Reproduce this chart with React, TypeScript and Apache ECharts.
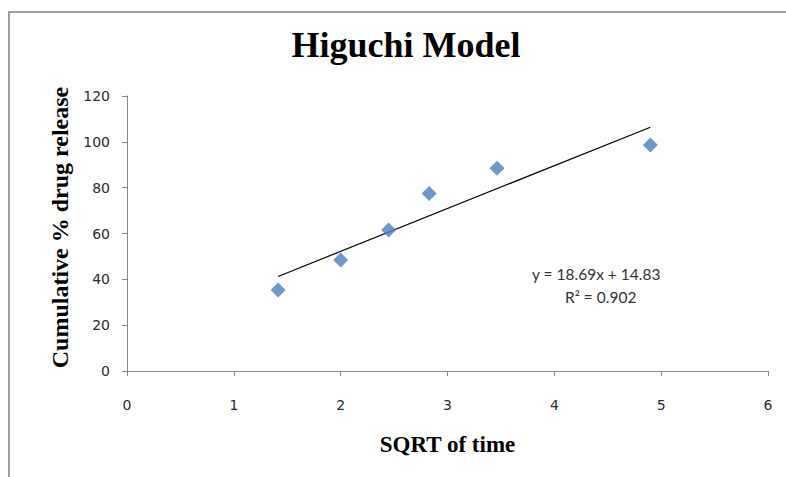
import React, { useEffect, useRef } from "react";
import * as echarts from "echarts";

const xValues = [1.414, 2.0, 2.449, 2.828, 3.464, 4.899];
const yValues = [35.3, 48.4, 61.5, 77.5, 88.5, 98.6];
const slope = 18.69;
const intercept = 14.83;
const equationText = "y = 18.69x + 14.83";
const r2Text = "R² = 0.902";
const titleText = "Higuchi Model";
const xAxisName = "SQRT of time";
const yAxisName = "Cumulative % drug release";

export default function App() {
  const ref = useRef<HTMLDivElement>(null);
  useEffect(() => {
    if (!ref.current) return;
    const chart = echarts.init(ref.current, null, { renderer: "svg" });
    const xMin = Math.min(...xValues);
    const xMax = Math.max(...xValues);
    const trend = [
      [xMin, slope * xMin + intercept],
      [xMax, slope * xMax + intercept],
    ];
    const serif = "'Liberation Serif', 'Times New Roman', serif";
    const sans = "'DejaVu Sans', sans-serif";
    const eqFont = "Lato, 'Noto Sans', sans-serif";
    chart.setOption({
      animation: false,
      backgroundColor: "#ffffff",
      title: {
        text: titleText,
        left: 401,
        textAlign: "center",
        top: 22,
        textStyle: { fontFamily: serif, fontSize: 36, fontWeight: "bold", color: "#000" },
      },
      grid: { left: 127, top: 96, right: 18, bottom: 106 },
      xAxis: {
        type: "value",
        min: 0,
        max: 6,
        interval: 1,
        name: xAxisName,
        nameLocation: "middle",
        nameGap: 62,
        nameTextStyle: { fontFamily: serif, fontSize: 23, fontWeight: "bold", color: "#000" },
        axisLine: { show: true, onZero: false, lineStyle: { color: "#868686", width: 1 } },
        axisTick: { show: true, length: 5, lineStyle: { color: "#868686" } },
        splitLine: { show: false },
        axisLabel: { fontFamily: sans, fontSize: 14, color: "#2a2a2a", margin: 27 },
      },
      yAxis: {
        type: "value",
        min: 0,
        max: 120,
        interval: 20,
        name: yAxisName,
        nameLocation: "middle",
        nameGap: 53,
        nameTextStyle: {
          fontFamily: serif,
          fontSize: 24,
          fontWeight: "bold",
          color: "#000",
          padding: [0, 0, 0, 12],
        },
        axisLine: { show: true, lineStyle: { color: "#868686", width: 1 } },
        axisTick: { show: true, length: 5, lineStyle: { color: "#868686" } },
        splitLine: { show: false },
        axisLabel: { fontFamily: sans, fontSize: 14, color: "#2a2a2a", margin: 17 },
      },
      series: [
        {
          type: "line",
          data: trend,
          symbol: "none",
          lineStyle: { color: "#000", width: 1.2 },
          z: 1,
        },
        {
          type: "scatter",
          data: xValues.map((x, i) => [x, yValues[i]]),
          symbol: "diamond",
          symbolSize: [15, 15],
          itemStyle: { color: "#4a7ebb" },
          z: 2,
        },
      ],
      graphic: [
        {
          type: "rect",
          shape: { x: 9, y: 12, width: 800, height: 480 },
          style: { fill: "none", stroke: "#a0a0a0", lineWidth: 2 },
          silent: true,
        },
        {
          type: "text",
          x: 532,
          y: 274,
          style: {
            text: equationText,
            fontFamily: eqFont,
            fontSize: 15.5,
            fill: "#333",
            align: "left",
            verticalAlign: "middle",
          },
        },
        {
          type: "text",
          x: 565,
          y: 297,
          style: {
            text: r2Text,
            fontFamily: eqFont,
            fontSize: 15.5,
            fill: "#333",
            align: "left",
            verticalAlign: "middle",
          },
        },
      ],
    });
    return () => chart.dispose();
  }, []);
  return (
    <div
      ref={ref}
      style={{ position: "fixed", left: 0, top: 0, width: 786, height: 477 }}
    />
  );
}
